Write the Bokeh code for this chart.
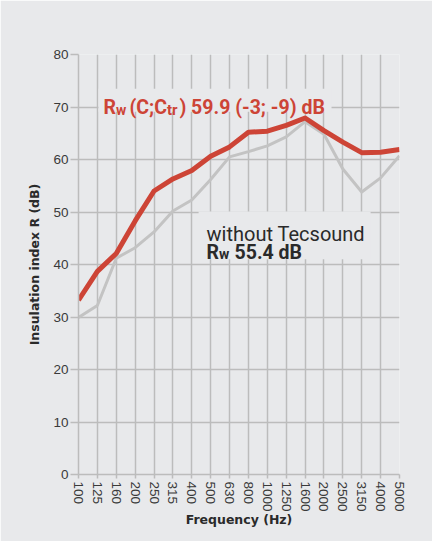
from bokeh.plotting import figure
from bokeh.models import Range1d, FixedTicker, Label, BoxAnnotation
from bokeh.embed import file_html
from bokeh.resources import INLINE

freqs = ["100", "125", "160", "200", "250", "315", "400", "500", "630", "800",
         "1000", "1250", "1600", "2000", "2500", "3150", "4000", "5000"]
with_tecsound = [33.2, 38.7, 42.1, 48.3, 54.0, 56.3, 57.9, 60.6, 62.4, 65.2,
                 65.4, 66.5, 67.9, 65.5, 63.3, 61.3, 61.4, 61.9]
without_tecsound = [29.9, 32.2, 41.2, 43.2, 46.2, 50.2, 52.3, 56.2, 60.5, 61.5,
                    62.6, 64.3, 67.2, 64.8, 58.2, 53.8, 56.5, 60.7]
y_ticks = [0, 10, 20, 30, 40, 50, 60, 70, 80]

PANEL = "#e8e9eb"
RED = "#cd4436"
GREY_LINE = "#c3c3c3"
GRID = "#bcbcbc"
TXT = "#2a2a2a"

idx = list(range(len(freqs)))

p = figure(width=432, height=541, output_backend="svg", toolbar_location=None,
           x_range=Range1d(0, len(freqs) - 1), y_range=Range1d(0, 80),
           min_border_left=78, min_border_right=33, min_border_top=54, min_border_bottom=67)
p.background_fill_color = PANEL
p.border_fill_color = PANEL
p.outline_line_color = None

p.xaxis.ticker = FixedTicker(ticks=idx)
p.xaxis.major_label_overrides = {i: f for i, f in enumerate(freqs)}
p.xaxis.major_label_orientation = "vertical"
p.yaxis.ticker = FixedTicker(ticks=y_ticks)

for ax in (p.xaxis, p.yaxis):
    ax.axis_line_color = GRID
    ax.axis_line_width = 1.5
    ax.major_tick_line_color = GRID
    ax.major_tick_line_width = 1.5
    ax.minor_tick_line_color = None
    ax.major_tick_in = 0
    ax.major_label_text_color = "#3a3a3a"
    ax.major_label_text_font = "Liberation Sans"
    ax.axis_label_text_font = "DejaVu Sans"
    ax.axis_label_text_font_style = "bold"
    ax.axis_label_text_color = TXT
    ax.axis_label_text_font_size = "12.5px"

p.xaxis.major_tick_out = 4
p.yaxis.major_tick_out = 8
p.xaxis.major_label_text_font_size = "13.5px"
p.yaxis.major_label_text_font_size = "13.5px"
p.xaxis.major_label_standoff = 3
p.yaxis.major_label_standoff = 2
p.xaxis.axis_label = "Frequency (Hz)"
p.yaxis.axis_label = "Insulation index R (dB)"
p.xaxis.axis_label_standoff = -3
p.yaxis.axis_label_standoff = 8

p.grid.grid_line_color = GRID
p.grid.grid_line_width = 1.5
p.xgrid.ticker = FixedTicker(ticks=idx)
p.ygrid.ticker = FixedTicker(ticks=y_ticks)

p.line(idx, without_tecsound, line_color=GREY_LINE, line_width=3, line_join="round")
p.line(idx, with_tecsound, line_color=RED, line_width=5, line_join="round")

# text backgrounds
p.add_layout(BoxAnnotation(left=1.06, right=13.4, bottom=69.1, top=73.5,
                           fill_color=PANEL, fill_alpha=1, line_color=None))
p.add_layout(BoxAnnotation(left=6.36, right=15.47, bottom=41.0, top=50.1,
                           fill_color=PANEL, fill_alpha=1, line_color=None))

def piece(txt, x, y, xo, yo, size, color, style):
    p.add_layout(Label(x=x, y=y, x_offset=xo, y_offset=yo, text=txt,
                       text_font="Roboto", text_font_size=size,
                       text_font_style=style, text_color=color,
                       text_baseline="alphabetic", text_align="left"))

# red label: R_w (C;C_tr) 59.9 (-3; -9) dB
rx, ry = 1.32, 69.9
piece("R", rx, ry, 0, 0, "19.5px", RED, "bold")
piece("w", rx, ry, 12.5, -2, "14px", RED, "bold")
piece("(C;C", rx, ry, 26, 0, "19.5px", RED, "bold")
piece("tr", rx, ry, 63.5, -2, "15px", RED, "bold")
piece(") 59.9 (-3; -9) dB", rx, ry, 76, 0, "19.5px", RED, "bold")

# without Tecsound label
piece("without Tecsound", 6.78, 45.8, 0, 0, "20px", TXT, "normal")
piece("R", 6.78, 42.3, 0, 0, "19.5px", TXT, "bold")
piece("w", 6.78, 42.3, 12.5, -2, "14px", TXT, "bold")
piece("55.4 dB", 6.78, 42.3, 28, 0, "19.5px", TXT, "bold")

open("out.html", "w").write(file_html(p, INLINE))
